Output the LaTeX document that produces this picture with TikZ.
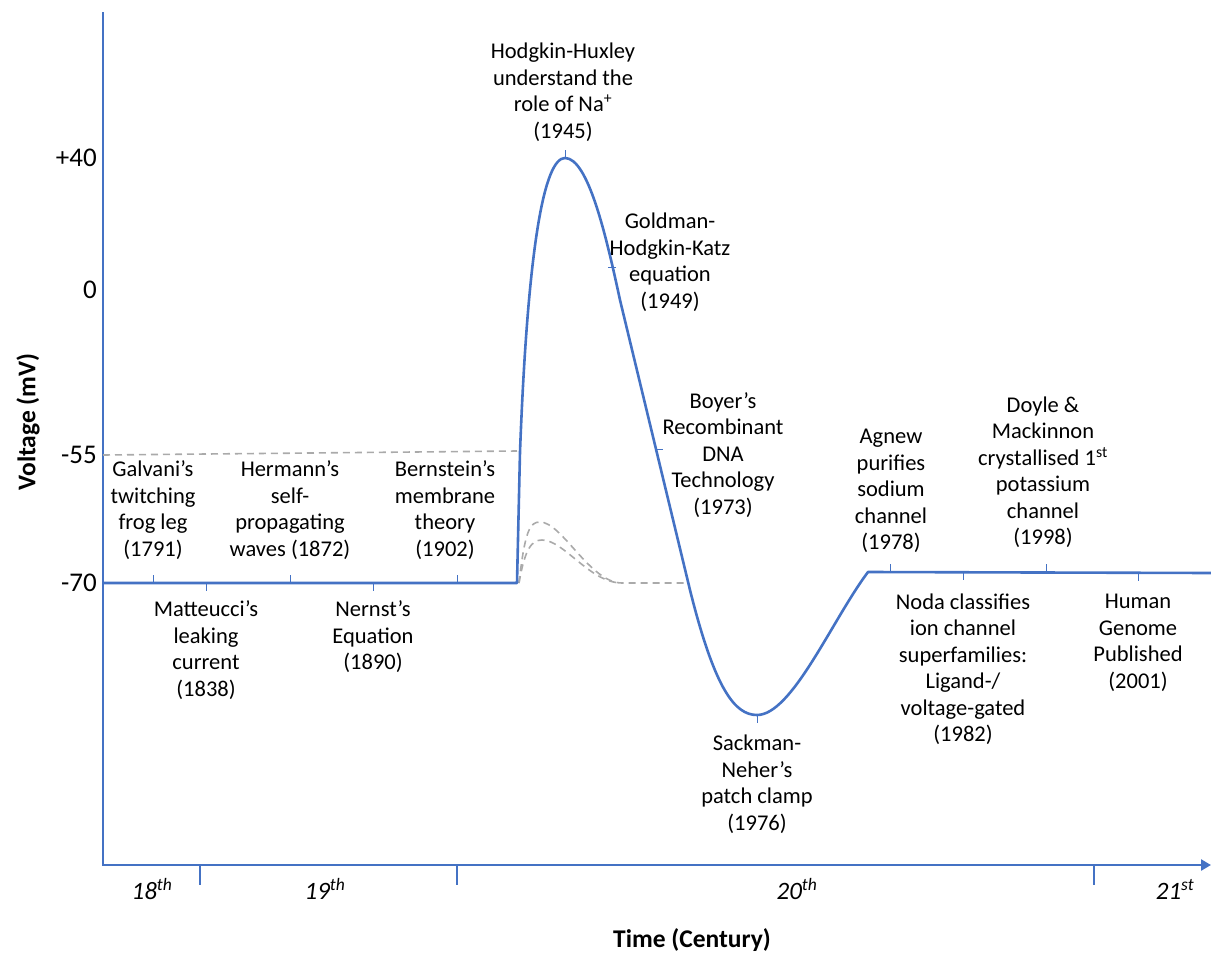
\documentclass[tikz,border=0pt]{standalone}
\usepackage{fontspec}
\setmainfont{Carlito}
\usetikzlibrary{arrows.meta}
\begin{document}
\begin{tikzpicture}[x=1pt,y=-1pt,
  event/.style={align=center,inner sep=0pt,font=\fontsize{22.5}{26.5}\selectfont},
  volt/.style={anchor=east,inner sep=0pt,font=\fontsize{27}{30}\selectfont},
  century/.style={inner sep=0pt,font=\fontsize{25}{28}\selectfont\itshape},
  axistitle/.style={inner sep=0pt,font=\fontsize{25.5}{28}\selectfont\bfseries},
  apline/.style={line width=2.6pt,color=apblue},
  dashedline/.style={line width=1.6pt,color=apgrey,dash pattern=on 7pt off 5pt},
  tick/.style={line width=1pt,color=apblue}]
		\definecolor{apblue}{RGB}{68,114,196}
		\definecolor{apgrey}{RGB}{170,170,170}
		\useasboundingbox (0,0) rectangle (1211,953);
		\draw[line width=2.6pt,color=apblue,-{Triangle[length=10pt,width=11pt]}] (103,12)--(103,865)--(1211,865);
		\draw[line width=2.6pt,color=apblue] (200,865)--(200,885) (457,865)--(457,885) (1094,865)--(1094,885);
		\draw[dashedline] (103,455)--(517,451);
		\draw[dashedline] (519,583) .. controls (525,530) and (530,522) .. (540,522) .. controls (562,522) and (590,583) .. (622,583) -- (685,583);
		\draw[dashedline] (519,583) .. controls (525,548) and (532,540) .. (542,540) .. controls (564,540) and (590,583) .. (622,583);
		\draw[apline,line join=round] (103,583)--(517,583)--(520,452) .. controls (528,240) and (545,158) .. (565,158) .. controls (588,158) and (606,235) .. (620,300) -- (690,590) .. controls (715,690) and (735,715) .. (757,715) .. controls (792,715) and (832,620) .. (868,572) -- (1211,573);
		\draw[tick] (153,583)--(153,575) (290,583)--(290,575) (457,583)--(457,575) (206,583)--(206,591) (373,583)--(373,591);
		\draw[tick] (565,158)--(565,150) (608,267)--(616,267) (655,449)--(663,449) (757,715)--(757,723);
		\draw[tick] (890,572)--(890,564) (1046,572)--(1046,564) (963,572)--(963,580) (1138,573)--(1138,581);
		\node[volt] (v40) at (97,158) {+40};
		\node[volt] (v0) at (97,290) {0};
		\node[volt] (v55) at (97,455) {-55};
		\node[volt] (v70) at (97,583) {-70};
		\node[axistitle,rotate=90] (vtitle) at (28,422) {Voltage (mV)};
		\node[axistitle] (ttitle) at (692,940) {Time (Century)};
		\node[century] (c18) at (152,889) {18\textsuperscript{th}};
		\node[century] (c19) at (325,889) {19\textsuperscript{th}};
		\node[century] (c20) at (797,889) {20\textsuperscript{th}};
		\node[century] (c21) at (1175,889) {21\textsuperscript{st}};
		\node[event] (galvani) at (153,510) {Galvani’s\\twitching\\frog leg\\(1791)};
		\node[event] (hermann) at (290,510) {Hermann’s\\self-\\propagating\\waves (1872)};
		\node[event] (bernstein) at (445,510) {Bernstein’s\\membrane\\theory\\(1902)};
		\node[event] (matteucci) at (206,650) {Matteucci’s\\leaking\\current\\(1838)};
		\node[event] (nernst) at (373,637) {Nernst’s\\Equation\\(1890)};
		\node[event] (hodgkin) at (563,92) {Hodgkin-Huxley\\understand the\\role of Na\textsuperscript{+}\\(1945)};
		\node[event] (goldman) at (670,262) {Goldman-\\Hodgkin-Katz\\equation\\(1949)};
		\node[event] (boyer) at (723,455) {Boyer’s\\Recombinant\\DNA\\Technology\\(1973)};
		\node[event] (sackman) at (757,784) {Sackman-\\Neher’s\\patch clamp\\(1976)};
		\node[event] (agnew) at (891,491) {Agnew\\purifies\\sodium\\channel\\(1978)};
		\node[event] (doyle) at (1043,472) {Doyle \&\\Mackinnon\\crystallised 1\textsuperscript{st}\\potassium\\channel\\(1998)};
		\node[event] (noda) at (963,669) {Noda classifies\\ion channel\\superfamilies:\\Ligand-/\\voltage-gated\\(1982)};
		\node[event] (genome) at (1138,643) {Human\\Genome\\Published\\(2001)};
	\end{tikzpicture}
\end{document}
